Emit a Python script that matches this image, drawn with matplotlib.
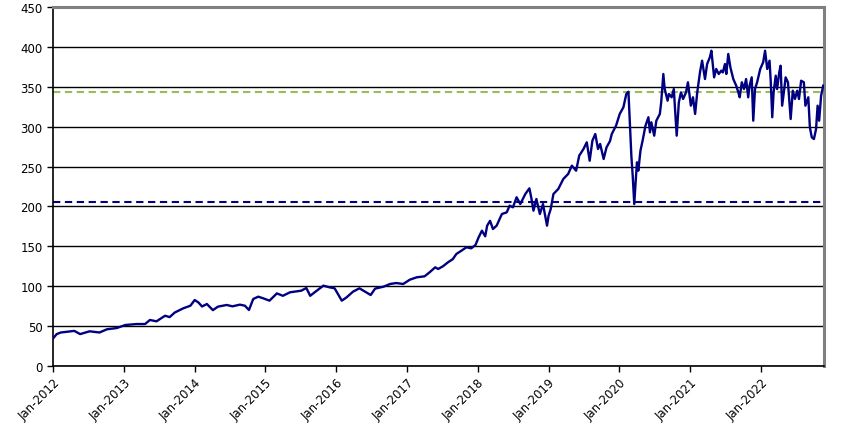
import pandas as pd
import matplotlib.pyplot as plt
import matplotlib.dates as mdates

# price series (date, level)
dates = [
    "2012-01-03", "2012-01-20", "2012-02-10", "2012-03-15", "2012-04-20", "2012-05-20",
    "2012-07-08", "2012-08-28", "2012-10-05", "2012-11-25", "2013-01-08", "2013-03-08",
    "2013-04-20", "2013-05-15", "2013-06-18", "2013-08-01", "2013-08-25", "2013-09-20",
    "2013-11-03", "2013-12-10", "2014-01-01", "2014-01-20", "2014-02-08", "2014-03-05",
    "2014-04-05", "2014-05-01", "2014-06-15", "2014-07-15", "2014-08-22", "2014-09-17",
    "2014-10-08", "2014-10-30", "2014-11-25", "2014-12-20", "2015-01-22", "2015-03-01",
    "2015-04-01", "2015-05-08", "2015-06-10", "2015-07-05", "2015-07-31", "2015-08-20",
    "2015-09-12", "2015-10-27", "2015-11-28", "2015-12-24", "2016-01-30", "2016-02-24",
    "2016-03-28", "2016-04-30", "2016-06-27", "2016-07-20", "2016-09-01", "2016-10-05",
    "2016-11-06", "2016-12-12", "2017-01-15", "2017-02-20", "2017-04-01", "2017-04-27",
    "2017-05-26", "2017-06-10", "2017-07-05", "2017-07-31", "2017-08-25", "2017-09-12",
    "2017-10-08", "2017-11-03", "2017-11-28", "2017-12-20", "2018-01-05", "2018-01-22",
    "2018-02-08", "2018-02-18", "2018-03-05", "2018-03-20", "2018-04-08", "2018-05-05",
    "2018-05-30", "2018-06-14", "2018-07-01", "2018-07-20", "2018-08-08", "2018-09-03",
    "2018-09-24", "2018-10-05", "2018-10-15", "2018-10-30", "2018-11-17", "2018-12-03",
    "2018-12-24", "2019-01-01", "2019-01-12", "2019-01-26", "2019-02-20", "2019-03-18",
    "2019-04-12", "2019-05-01", "2019-05-23", "2019-06-08", "2019-06-30", "2019-07-17",
    "2019-08-01", "2019-08-15", "2019-08-30", "2019-09-13", "2019-09-24", "2019-10-12",
    "2019-10-27", "2019-11-14", "2019-11-23", "2019-12-15", "2020-01-03", "2020-01-12",
    "2020-01-22", "2020-02-06", "2020-02-17", "2020-02-25", "2020-03-03", "2020-03-10",
    "2020-03-18", "2020-03-25", "2020-04-01", "2020-04-08", "2020-04-19", "2020-04-30",
    "2020-05-15", "2020-05-30", "2020-06-07", "2020-06-14", "2020-06-29", "2020-07-10",
    "2020-07-28", "2020-08-04", "2020-08-15", "2020-08-22", "2020-09-06", "2020-09-13",
    "2020-09-27", "2020-10-08", "2020-10-23", "2020-11-03", "2020-11-14", "2020-11-25",
    "2020-12-10", "2020-12-20", "2021-01-04", "2021-01-15", "2021-01-26", "2021-02-06",
    "2021-02-20", "2021-03-03", "2021-03-18", "2021-03-29", "2021-04-12", "2021-04-20",
    "2021-05-04", "2021-05-15", "2021-05-28", "2021-06-10", "2021-06-18", "2021-06-29",
    "2021-07-06", "2021-07-16", "2021-07-27", "2021-08-11", "2021-08-26", "2021-09-06",
    "2021-09-13", "2021-09-24", "2021-10-05", "2021-10-16", "2021-10-27", "2021-11-03",
    "2021-11-14", "2021-11-22", "2021-12-01", "2021-12-12", "2021-12-28", "2022-01-12",
    "2022-01-22", "2022-02-02", "2022-02-14", "2022-02-20", "2022-02-28", "2022-03-07",
    "2022-03-18", "2022-03-25", "2022-04-05", "2022-04-12", "2022-04-20", "2022-05-01",
    "2022-05-08", "2022-05-20", "2022-06-03", "2022-06-14", "2022-06-25", "2022-07-07",
    "2022-07-16", "2022-07-27", "2022-08-10", "2022-08-18", "2022-09-02", "2022-09-10",
    "2022-09-20", "2022-10-01", "2022-10-12", "2022-10-20", "2022-10-28", "2022-11-07",
    "2022-11-18",
]
values = [
    35, 40, 42, 43, 44, 40,
    43.5, 42, 46, 47.6, 51.4, 52.6,
    52.6, 57.7, 56, 63, 61.3, 67,
    72.3, 75.6, 82.7, 79.7, 74.6, 77.7,
    70, 74.4, 76.5, 74.8, 76.9, 75.6,
    70.2, 84, 86.9, 84.9, 81.9, 91,
    88, 92.4, 93.6, 94.4, 97.8, 88,
    92.4, 100.7, 98.6, 97.4, 81.9, 86.1,
    93.2, 97.4, 89, 97, 99.4, 102.8,
    104, 102.8, 108.2, 111.2, 112.4, 117.4,
    123.7, 121.6, 125, 130, 134, 140.4,
    144.5, 148.8, 147.5, 151.7, 161.3, 169.6,
    162.6, 175.9, 182, 171.7, 175.9, 190.5,
    192.6, 201, 198.9, 211.5, 203, 215.6,
    222.7, 209.3, 194.7, 209.3, 190.5, 203,
    175.9, 188.4, 196.8, 215.6, 221.9, 234.4,
    240.7, 251.1, 244.8, 263.6, 272, 280.4,
    257.3, 282.4, 290.8, 272, 278.3, 259.5,
    274.1, 282, 290.8, 301.2, 315.9, 320,
    324.3, 341, 343.8, 301.2, 263.6, 238.5,
    203, 230.3, 255.3, 244.8, 269.9, 282.4,
    301.2, 311.8, 292.9, 305.5, 288.7, 307.5,
    315.9, 330.5, 366, 347.2, 332.6, 341,
    336.8, 347.2, 288.7, 330.5, 343, 334.7,
    343, 355.6, 326.3, 336.8, 315.9, 343,
    368, 382.7, 359.7, 378.5, 386.9, 395.2,
    361.8, 372.3, 366, 370.2, 368, 378.5,
    366, 391.1, 374.4, 359.7, 351.4, 343,
    336.8, 355.6, 347.2, 359.7, 336.8, 351.4,
    361.8, 307.5, 347.2, 355.6, 372.3, 380.6,
    395.2, 372.3, 382.7, 357.6, 311.8, 343,
    363.9, 347.2, 368, 376.4, 326.3, 347.2,
    361.8, 355.6, 309.6, 345.1, 334.7, 345.1,
    334.7, 357.6, 355.6, 326.3, 336.8, 299.2,
    286.6, 284.5, 297, 326.3, 307.5, 338.9,
    351.4,
]

# reference levels (dashed lines)
lower_level = 206
upper_level = 343

series = pd.Series(values, index=pd.to_datetime(dates))

fig = plt.figure(figsize=(8.48, 4.39), dpi=100)
ax = fig.add_axes([0.0625, 0.164, 0.9092, 0.8178])

ax.set_axisbelow(True)
ax.yaxis.grid(True, color='black', linewidth=1.0)

ax.plot(series.index, series.values, color='#000080', linewidth=1.7, zorder=3)
ax.axhline(lower_level, color='#000080', linewidth=1.5, linestyle=(0, (3.5, 2.2)), zorder=2)
ax.axhline(upper_level, color='#9BBB59', linewidth=1.5, linestyle=(0, (3.5, 2.2)), zorder=2)

ax.set_xlim(pd.Timestamp("2012-01-01"), pd.Timestamp("2022-11-22"))
ax.set_ylim(0, 450)
ax.set_yticks(range(0, 451, 50))

ax.xaxis.set_major_locator(mdates.YearLocator())
ax.xaxis.set_major_formatter(mdates.DateFormatter('Jan-%Y'))
plt.setp(ax.get_xticklabels(), rotation=45, ha='right', rotation_mode='anchor')

ax.tick_params(axis='both', labelsize=8.5, length=4, width=1, color='black', direction='out')
ax.tick_params(axis='x', pad=3)

for side in ['left', 'bottom']:
    ax.spines[side].set_color('black')
    ax.spines[side].set_linewidth(1.2)
for side in ['top', 'right']:
    ax.spines[side].set_color('#808080')
    ax.spines[side].set_linewidth(2.2)

fig.savefig('out.png', dpi=100)
